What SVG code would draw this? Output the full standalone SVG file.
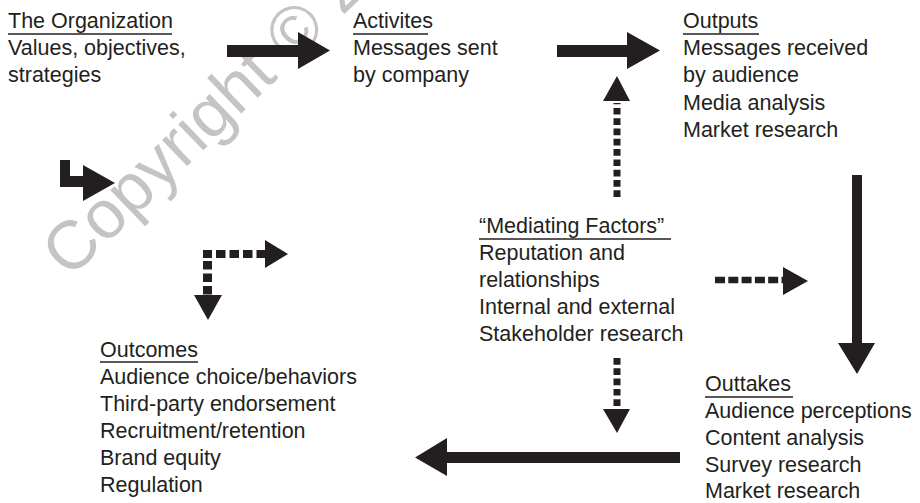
<svg xmlns="http://www.w3.org/2000/svg" width="920" height="503" viewBox="0 0 920 503">
  <style>
    .t { font-family: "Liberation Sans", Arial, sans-serif; font-size: 21.5px; fill: #231f20; }
    .u { stroke: #231f20; stroke-width: 1.3; fill: none; }
    .solid { fill: #231f20; stroke: none; }
    .dot { fill: none; stroke: #231f20; stroke-linecap: butt; }
    .wm { font-family: "Liberation Sans", Arial, sans-serif; font-size: 68px; fill: #c4c4c4; }
  </style>
  <rect width="920" height="503" fill="#ffffff"/>

  <text class="wm" x="69.5" y="279.6" transform="rotate(-44 69.5 279.6)">Copyright © 2</text>

  <g id="organization">
    <text class="t" x="8" y="28">The Organization</text>
    <line class="u" x1="8" y1="34" x2="172" y2="34"/>
    <text class="t" x="8" y="55">Values, objectives,</text>
    <text class="t" x="8" y="82">strategies</text>
  </g>

  <g id="activities">
    <text class="t" x="353" y="28">Activites</text>
    <line class="u" x1="353" y1="34" x2="428" y2="34"/>
    <text class="t" x="353" y="55">Messages sent</text>
    <text class="t" x="353" y="82">by company</text>
  </g>

  <g id="outputs">
    <text class="t" x="683" y="28">Outputs</text>
    <line class="u" x1="683" y1="34" x2="759" y2="34"/>
    <text class="t" x="683" y="55">Messages received</text>
    <text class="t" x="683" y="82">by audience</text>
    <text class="t" x="683" y="110">Media analysis</text>
    <text class="t" x="683" y="137">Market research</text>
  </g>

  <g id="mediating">
    <text class="t" x="479" y="233">“Mediating Factors”</text>
    <line class="u" x1="479" y1="239" x2="671" y2="239"/>
    <text class="t" x="479" y="260">Reputation and</text>
    <text class="t" x="479" y="287">relationships</text>
    <text class="t" x="479" y="314">Internal and external</text>
    <text class="t" x="479" y="341">Stakeholder research</text>
  </g>

  <g id="outcomes">
    <text class="t" x="100" y="357">Outcomes</text>
    <line class="u" x1="100" y1="362" x2="198" y2="362"/>
    <text class="t" x="100" y="384">Audience choice/behaviors</text>
    <text class="t" x="100" y="411">Third-party endorsement</text>
    <text class="t" x="100" y="438">Recruitment/retention</text>
    <text class="t" x="100" y="465">Brand equity</text>
    <text class="t" x="100" y="492">Regulation</text>
  </g>

  <g id="outtakes">
    <text class="t" x="705" y="391">Outtakes</text>
    <line class="u" x1="705" y1="397" x2="793" y2="397"/>
    <text class="t" x="705" y="418">Audience perceptions</text>
    <text class="t" x="705" y="445">Content analysis</text>
    <text class="t" x="705" y="472">Survey research</text>
    <text class="t" x="705" y="498">Market research</text>
  </g>

  <g id="connectors">
    <!-- Organization to Activities -->
    <polygon class="solid" points="227,45 298,45 298,32 330,50.5 298,69 298,57 227,57"/>
    <!-- Activities to Outputs -->
    <polygon class="solid" points="557,45 627,45 627,32 660,50.5 627,69 627,57 557,57"/>
    <!-- Outputs down to Outtakes -->
    <polygon class="solid" points="852,175 862,175 862,343 875,343 857,374 838,343 852,343"/>
    <!-- Outtakes to Outcomes -->
    <polygon class="solid" points="680,452 680,463 447,463 447,476 415,457.5 447,438 447,452"/>
    <!-- bent arrow -->
    <polygon class="solid" points="60,160 70,160 70,176 83,176 83,165 115,183 83,201 83,187 60,187"/>

    <!-- mediating up dotted -->
    <path class="dot" d="M617 197 V103" stroke-width="7" stroke-dasharray="6.7 3.6"/>
    <polygon class="solid" points="603,101 630,101 617,76"/>
    <!-- mediating down dotted -->
    <path class="dot" d="M617 358 V410" stroke-width="7" stroke-dasharray="6.7 3.6"/>
    <polygon class="solid" points="603,409 630,409 617,433"/>
    <!-- mediating right dotted -->
    <path class="dot" d="M715 280 H784" stroke-width="6.5" stroke-dasharray="10 3.3"/>
    <polygon class="solid" points="783,267 808,281 783,295"/>
    <!-- corner dotted -->
    <rect class="solid" x="203" y="250" width="9" height="8"/>
    <path class="dot" d="M216 254 H266" stroke-width="8" stroke-dasharray="9.5 4"/>
    <polygon class="solid" points="265,240 288,254 265,268"/>
    <path class="dot" d="M207.5 261 V296" stroke-width="9" stroke-dasharray="8.5 4"/>
    <polygon class="solid" points="194,295 222,295 208,320"/>
  </g>
</svg>
